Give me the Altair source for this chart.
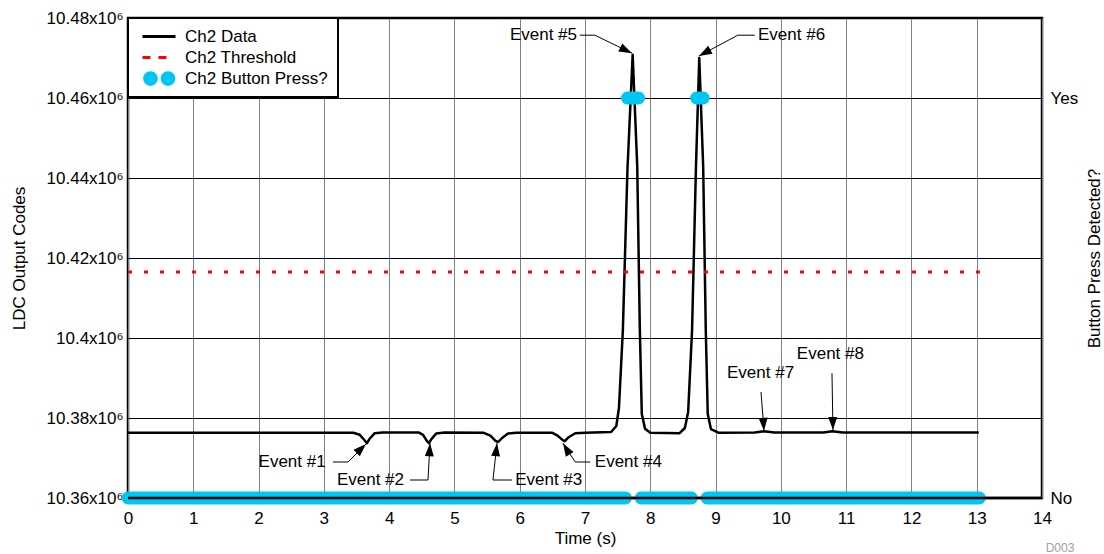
import altair as alt
import pandas as pd

FONT = "Liberation Sans"

# ---- Ch2 Data (time in s, LDC output code in millions) ----
TIME = [0.0, 3.45, 3.55, 3.62, 3.66, 3.70, 3.78, 3.90,
        4.45, 4.52, 4.58, 4.61, 4.65, 4.72, 4.85,
        5.45, 5.55, 5.63, 5.67, 5.73, 5.82, 5.95,
        6.50, 6.58, 6.65, 6.69, 6.75, 6.85, 7.00,
        7.40, 7.48, 7.52, 7.58, 7.65, 7.73, 7.80, 7.84, 7.87, 7.92, 8.00,
        8.45, 8.53, 8.58, 8.64, 8.70, 8.75, 8.81, 8.85, 8.88, 8.93, 9.05,
        9.60, 9.74, 9.90, 10.65, 10.79, 10.95, 13.03]
CODES = [10.3763, 10.3763, 10.3758, 10.3745, 10.3737, 10.3748, 10.3762, 10.3764,
         10.3764, 10.3758, 10.3742, 10.3737, 10.3748, 10.3761, 10.3764,
         10.3763, 10.3756, 10.3743, 10.3740, 10.3750, 10.3761, 10.3763,
         10.3763, 10.3756, 10.3746, 10.3742, 10.3752, 10.3762, 10.3763,
         10.3765, 10.3780, 10.3825, 10.4020, 10.4420, 10.4708, 10.4430, 10.4020, 10.3810, 10.3773, 10.3763,
         10.3762, 10.3775, 10.3815, 10.4020, 10.4430, 10.4700, 10.4430, 10.4020, 10.3810, 10.3772, 10.3763,
         10.3764, 10.3767, 10.3764, 10.3764, 10.3767, 10.3764, 10.3764]

# ---- Ch2 Threshold ----
THRESH_TIME = [0.0, 13.05]
THRESH_CODE = [10.4165, 10.4165]

# ---- Ch2 Button Press? (0 = No, 1 = Yes) ----
BTN_SEG = [1, 1, 2, 2, 3, 3, 4, 4, 5, 5]
BTN_TIME = [0.0, 7.62, 7.65, 7.82, 7.86, 8.63, 8.71, 8.81, 8.87, 13.04]
BTN_STATE = [0, 0, 1, 1, 0, 0, 1, 1, 0, 0]

# ---- Event annotations ----
EVENTS = ["Event #1", "Event #2", "Event #3", "Event #4",
          "Event #5", "Event #6", "Event #7", "Event #8"]
EVENT_TEXT_X = [2.00, 3.20, 5.93, 7.15, 5.85, 9.65, 9.175, 10.245]
EVENT_TEXT_Y = [10.3690, 10.3645, 10.3645, 10.3690, 10.4757, 10.4757, 10.3912, 10.3960]
EVENT_TIP_X = [3.646, 4.626, 5.652, 6.663, 7.72, 8.746, 9.742, 10.798]
EVENT_TIP_Y = [10.3735, 10.3737, 10.3737, 10.3737, 10.4712, 10.4705, 10.3768, 10.3770]
EVENT_ANGLE = [46, 3, 6, 329, 116, 241, 176, 179]

LEADER_EVENT = ["Event #1"] * 3 + ["Event #2"] * 3 + ["Event #3"] * 3 + ["Event #4"] * 3 + \
               ["Event #5"] * 3 + ["Event #6"] * 3 + ["Event #7"] * 2 + ["Event #8"] * 2
LEADER_X = [3.14, 3.37, 3.646,
            4.32, 4.595, 4.626,
            5.88, 5.59, 5.652,
            7.08, 6.85, 6.663,
            6.92, 7.15, 7.72,
            9.60, 9.34, 8.746,
            9.696, 9.742,
            10.783, 10.798]
LEADER_Y = [10.3690, 10.3690, 10.3735,
            10.3645, 10.3645, 10.3737,
            10.3645, 10.3645, 10.3737,
            10.3690, 10.3690, 10.3737,
            10.4757, 10.4757, 10.4712,
            10.4757, 10.4757, 10.4705,
            10.3865, 10.3768,
            10.3912, 10.3770]
LEADER_ORDER = [0, 1, 2, 0, 1, 2, 0, 1, 2, 0, 1, 2, 0, 1, 2, 0, 1, 2, 0, 1, 0, 1]

SERIES = ["Ch2 Data", "Ch2 Threshold", "Ch2 Button Press?"]
COLORS = ["#000000", "#ff0000", "#00c6f2"]

# ---- tables ----
data_df = pd.DataFrame({"t": TIME, "v": CODES, "series": SERIES[0]})
thr_df = pd.DataFrame({"t": THRESH_TIME, "v": THRESH_CODE, "series": SERIES[1]})
btn_df = pd.DataFrame({"t": BTN_TIME, "state": BTN_STATE, "seg": BTN_SEG, "series": SERIES[2]})
ev_df = pd.DataFrame({"name": EVENTS, "tx": EVENT_TEXT_X, "ty": EVENT_TEXT_Y,
                      "t": EVENT_TIP_X, "v": EVENT_TIP_Y, "angle": EVENT_ANGLE})
lead_df = pd.DataFrame({"event": LEADER_EVENT, "t": LEADER_X, "v": LEADER_Y, "order": LEADER_ORDER})

# ---- scales / axes ----
xscale = alt.Scale(domain=[0, 14], nice=False, zero=False)
yscale = alt.Scale(domain=[10.36, 10.48], nice=False, zero=False)

xaxis = alt.Axis(values=list(range(15)), grid=True, gridColor="#7f7f7f", gridWidth=1,
                 ticks=False, domain=False, labelFlush=False, labelPadding=12,
                 title="Time (s)", titlePadding=4)
yaxis = alt.Axis(values=[10.36, 10.38, 10.40, 10.42, 10.44, 10.46, 10.48],
                 grid=True, gridColor="#000000", gridWidth=1, ticks=False, domain=False,
                 labelPadding=5, labelExpr="format(datum.value, '.2~f') + 'x10\u2076'",
                 title="LDC Output Codes", titlePadding=18)

X = alt.X("t:Q", scale=xscale, axis=xaxis)
Y = alt.Y("v:Q", scale=yscale, axis=yaxis)

STROKE_PATH = "M-0.8,0L5.8,0"
DASH_PATH = "M-0.8,0L4.0,0"
CIRCLES_PATH = ("M-0.66,0A1.46,1.46 0 1,0 2.26,0A1.46,1.46 0 1,0 -0.66,0Z"
                "M2.84,0A1.46,1.46 0 1,0 5.76,0A1.46,1.46 0 1,0 2.84,0Z")

legend = alt.Legend(
    title=None, orient="top-left", offset=0,
    fillColor="white", strokeColor="black",
    padding=10, rowPadding=3,
    labelFont=FONT, labelFontSize=17, labelOffset=30,
    symbolSize=100,
    symbolType=alt.ExprRef(expr="datum.value === 'Ch2 Button Press?' ? '" + CIRCLES_PATH +
                           "' : datum.value === 'Ch2 Threshold' ? '" + DASH_PATH +
                           "' : '" + STROKE_PATH + "'"),
    symbolStrokeWidth=alt.ExprRef(expr="datum.value === 'Ch2 Button Press?' ? 0 : 3"),
    symbolDash=alt.ExprRef(expr="datum.value === 'Ch2 Threshold' ? [8, 8] : []"),
    symbolFillColor=alt.ExprRef(expr="datum.value === 'Ch2 Button Press?' ? '" + COLORS[2] + "' : 'transparent'"),
)
COLOR = alt.Color("series:N", scale=alt.Scale(domain=SERIES, range=COLORS), legend=legend)

data_line = alt.Chart(data_df).mark_line(strokeWidth=2.5, strokeJoin="round").encode(
    x=X, y=Y, color=COLOR, order="t:Q")
thr_line = alt.Chart(thr_df).mark_line(strokeWidth=3, strokeDash=[4, 12]).encode(
    x=X, y=Y, color=COLOR)
leaders = alt.Chart(lead_df).mark_line(color="black", strokeWidth=1).encode(
    x=X, y=Y, detail="event:N", order="order:Q")
ARROW = "M0,0L-0.9,2.6L0.9,2.6Z"
arrows = alt.Chart(ev_df).mark_point(shape=ARROW, filled=True, size=100, color="black",
                                     opacity=1, strokeWidth=0).encode(
    x=X, y=Y, angle=alt.Angle("angle:Q", scale=None))
texts = alt.Chart(ev_df).mark_text(align="left", baseline="middle", font=FONT, fontSize=17,
                                   color="black").encode(
    x=alt.X("tx:Q", scale=xscale, axis=xaxis), y=alt.Y("ty:Q", scale=yscale, axis=yaxis),
    text="name:N")
tag = alt.Chart().mark_text(text="D003", font=FONT, fontSize=12, color="#a0a0a0",
                            align="center", baseline="middle").encode(
    x=alt.value(932), y=alt.value(530))

left = alt.layer(data_line, thr_line, leaders, arrows, texts, tag)

btn = alt.Chart(btn_df).mark_line(strokeWidth=13, strokeCap="round").encode(
    x=X,
    y=alt.Y("state:Q", scale=alt.Scale(domain=[0, 1.2], nice=False, zero=False),
            axis=alt.Axis(orient="right", values=[0, 1], grid=False, ticks=False, domain=False,
                          labelExpr="datum.value == 1 ? 'Yes' : 'No'", labelPadding=8,
                          title="Button Press Detected?", titleAngle=270, titlePadding=26)),
    color=COLOR, detail="seg:N", order="t:Q")
frame = alt.Chart().mark_rule(color="black", strokeWidth=2.5).encode(
    x=alt.value(0), x2=alt.value(914), y=alt.value(480))
right = alt.layer(btn, frame)

chart = alt.layer(left, right).resolve_scale(y="independent").properties(
    width=914, height=480,
    padding={"left": 128, "top": 18, "right": 62, "bottom": 56},
    autosize=alt.AutoSizeParams(type="none"),
).configure_view(stroke="black", strokeWidth=2.5).configure_axis(
    labelFont=FONT, titleFont=FONT, labelFontSize=17, titleFontSize=17,
    labelColor="black", titleColor="black", titleFontWeight="normal",
).configure_legend(strokeWidth=2)

chart.save("out.html", embed_options={"renderer": "svg", "actions": False})
